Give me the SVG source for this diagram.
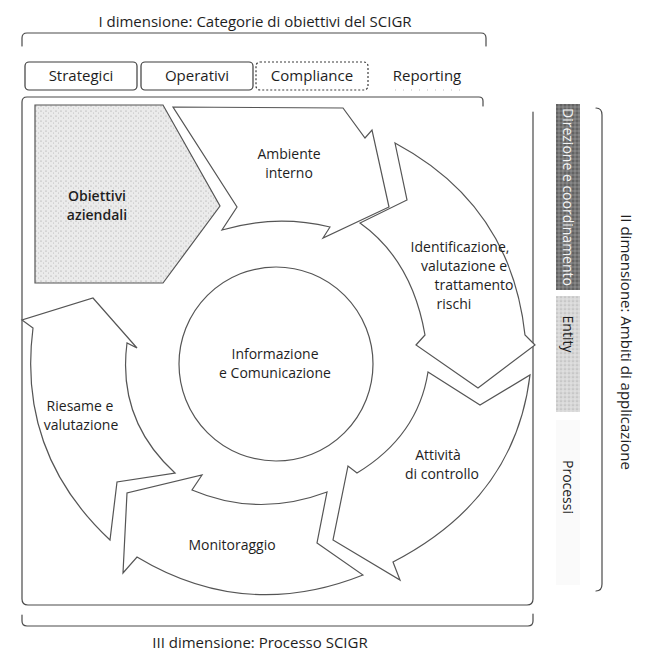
<svg xmlns="http://www.w3.org/2000/svg" width="646" height="652" viewBox="0 0 646 652">
<defs>
<pattern id="stip" width="5" height="5" patternUnits="userSpaceOnUse">
<rect width="5" height="5" fill="#ebebeb"/>
<circle cx="1" cy="1" r="0.6" fill="#9a9a9a"/>
<circle cx="3.5" cy="3" r="0.5" fill="#b4b4b4"/>
</pattern>
<pattern id="dark" width="4" height="4" patternUnits="userSpaceOnUse">
<rect width="4" height="4" fill="#777"/>
<circle cx="1" cy="1" r="0.8" fill="#4a4a4a"/>
<circle cx="3" cy="3" r="0.7" fill="#a0a0a0"/>
</pattern>
<pattern id="light" width="4" height="4" patternUnits="userSpaceOnUse">
<rect width="4" height="4" fill="#d8d8d8"/>
<circle cx="1" cy="1" r="0.6" fill="#999"/>
<circle cx="3" cy="3" r="0.6" fill="#f2f2f2"/>
</pattern>
</defs>
<style>
.ln{fill:none;stroke:#4a4a4a;stroke-width:1.2;stroke-linecap:round;stroke-linejoin:round}
.arr{fill:#fff;stroke:#555;stroke-width:1.2;stroke-linejoin:miter}
.tab{fill:none;stroke:#3c3c3c;stroke-width:1.2}
text{font-family:"Open Sans","Liberation Sans",sans-serif;font-size:14px;fill:#1e1e1e;text-anchor:middle}
.t{font-size:15px}
.b{font-weight:600}
.v{dominant-baseline:central}
</style>
<rect width="646" height="652" fill="#fff"/>

<g id="title-dim1"><text class="t" x="255" y="27">I dimensione: Categorie di obiettivi del SCIGR</text></g>

<g id="connectors">
<path class="ln" d="M22,46 V38 Q22,33 27,33 H481 Q486,33 486,38 V46"/>
<path class="ln" d="M483,106 V101 Q483,97 479,97 H27 Q22,97 22,102 V599 Q22,605 28,605 H527 Q533,605 533,599 V112"/>
<path class="ln" d="M22,615 V621 Q22,626 27,626 H528 Q533,626 533,621 V614"/>
<path class="ln" d="M596,108 Q602,108 602,115 V584 Q602,591 596,591"/>
</g>

<g id="tab-strategici"><rect class="tab" x="25" y="62" width="112" height="28" rx="4"/><text class="t" x="81" y="81">Strategici</text></g>
<g id="tab-operativi"><rect class="tab" x="141" y="62" width="112" height="28" rx="4"/><text class="t" x="197" y="81">Operativi</text></g>
<g id="tab-compliance"><rect class="tab" x="256" y="62" width="112" height="28" rx="4" stroke-dasharray="2 2"/><text class="t" x="312" y="81">Compliance</text></g>
<g id="tab-reporting"><text class="t" x="427" y="81">Reporting</text><line x1="395" y1="90" x2="460" y2="90" stroke="#bbb" stroke-width="1" stroke-dasharray="1 7"/></g>

<g id="obiettivi">
<path d="M35,105 H163 L220,206 L163,283 H35 Z" fill="url(#stip)" stroke="#555" stroke-width="1.2"/>
<text class="b" x="97" y="201">Obiettivi</text><text class="b" x="97" y="220">aziendali</text>
</g>

<g id="ambiente">
<path class="arr" d="M173,107 L343,108 L365,138 L372,130 L389,207 L323,238 L330,227 Q276,214 222,230 L237,207 Z"/>
<text x="289" y="159">Ambiente</text><text x="289" y="178">interno</text>
</g>

<g id="identificazione">
<path class="arr" d="M395,143 Q511,205 525,335 L535,345 L478,388 L416,345 L425,335 Q412,260 360,223 L407,200 Z"/>
<text x="460" y="252">Identificazione,</text><text x="464" y="271">valutazione e</text><text x="474" y="290">trattamento</text><text x="454" y="309">rischi</text>
</g>

<g id="attivita">
<path class="arr" d="M530,375 Q515,499 393,562 L400,580 L333,540 L348,466 L357,473 Q418,436 428,372 L480,405 Z"/>
<text x="438" y="460">Attività</text><text x="442" y="479">di controllo</text>
</g>

<g id="monitoraggio">
<path class="arr" d="M363,575 Q245,622 137,557 L123,573 L127,493 L202,475 L192,490 Q258,518 327,492 L317,543 Z"/>
<text x="232" y="550">Monitoraggio</text>
</g>

<g id="riesame">
<path class="arr" d="M110,540 Q17,453 33,328 L22,320 L93,298 L137,348 L127,343 Q117,420 175,473 L117,482 Z"/>
<text x="80" y="411">Riesame e</text><text x="81" y="430">valutazione</text>
</g>

<g id="informazione">
<circle cx="276" cy="364" r="97" fill="#fff" stroke="#555" stroke-width="1.2"/>
<text x="275" y="359">Informazione</text><text x="275" y="378">e Comunicazione</text>
</g>

<g id="direzione">
<rect x="556" y="104" width="24" height="186" fill="url(#dark)"/>
<text class="v" x="568" y="197" transform="rotate(90 568 197)" style="font-size:14px;fill:#f4f4f4">Direzione e coordinamento</text>
</g>
<g id="entity">
<rect x="556" y="296" width="24" height="116" fill="url(#light)"/>
<text class="v" x="568" y="334" transform="rotate(90 568 334)">Entity</text>
</g>
<g id="processi">
<rect x="556" y="420" width="24" height="165" fill="#fafafa"/>
<text class="v" x="568" y="487" transform="rotate(90 568 487)">Processi</text>
</g>

<g id="title-dim2"><text class="v t" x="627" y="342" transform="rotate(90 627 342)">II dimensione: Ambiti di applicazione</text></g>
<g id="title-dim3"><text class="t" x="260" y="648">III dimensione: Processo SCIGR</text></g>
</svg>
